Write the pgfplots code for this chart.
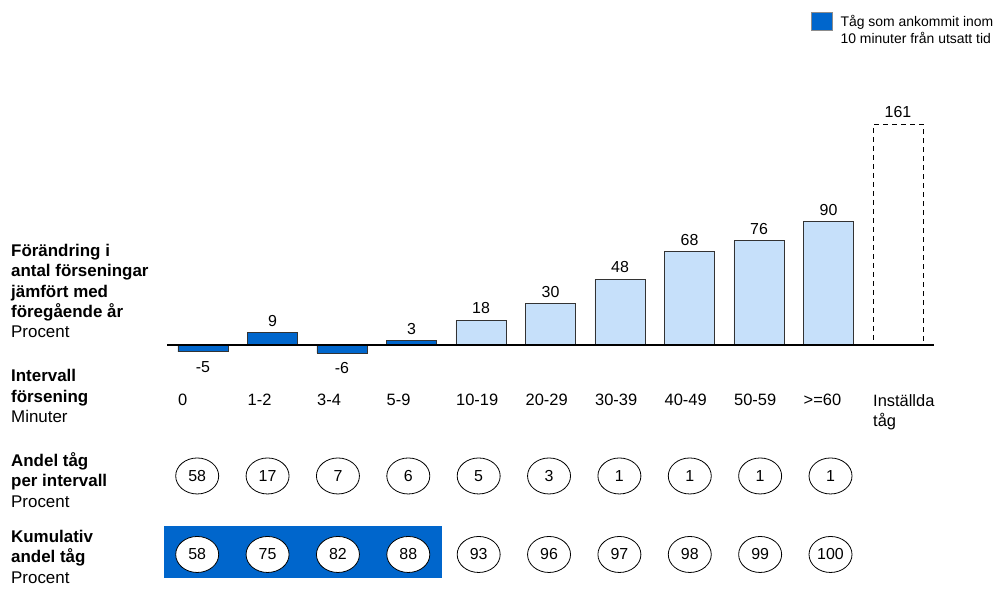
\documentclass[border=0pt]{standalone}
\usepackage{pgfplots}
\pgfplotsset{compat=1.18}
\usepackage{pgfplotstable}
\usepackage{fontspec}
\setmainfont{Liberation Sans}
\usetikzlibrary{shapes.geometric}
\definecolor{darkblue}{RGB}{0,102,204}
\definecolor{lightblue}{RGB}{198,224,250}

\pgfplotstableread{
x y
1 9
3 3
}\darkpos
\pgfplotstableread{
x y
0 -5
2 -6
}\darkneg
\pgfplotstableread{
x y
4 18
5 30
6 48
7 68
8 76
9 90
}\lightbars
\pgfplotstableread{
x y
10 161
}\cancelled
\pgfplotstableread{
x share cum
0 58 58
1 17 75
2 7 82
3 6 88
4 5 93
5 3 96
6 1 97
7 1 98
8 1 99
9 1 100
}\shares

\begin{document}
\begin{tikzpicture}
\begin{axis}[
  scale only axis, width=997bp, height=585bp,
  xmin=-2.9209, xmax=11.4245, ymin=-175.18, ymax=251.82,
  enlargelimits=false, clip=false,
  axis line style={draw=none}, tick style={draw=none},
  ytick=\empty,
  xtick={0,...,10},
  xticklabels={0,1-2,3-4,5-9,10-19,20-29,30-39,40-49,50-59,>=60,{Inställda\\tåg}},
  xticklabel style={anchor=north west, align=left, inner sep=0pt, xshift=-25bp, yshift=191bp, font=\fontsize{16.5}{20}\selectfont},
  /pgf/number format/assume math mode=true,
  bar width=0.72,
  legend cell align=left,
  legend style={at={(axis cs:8.748,243.07)}, anchor=north west, draw=none, fill=none,
    inner sep=0pt, outer sep=0pt, column sep=8bp, nodes={inner sep=0pt},
    font=\fontsize{14}{16.5}\selectfont},
]
\addlegendimage{legend image code/.code={\draw[fill=darkblue, draw=black!45, line width=0.6bp] (0bp,-8.5bp) rectangle (21bp,9.5bp);}}
\addlegendentry{\begin{tabular}[t]{@{}l@{}}Tåg som ankommit inom\\10 minuter från utsatt tid\end{tabular}}

% highlight box behind cumulative row
\addplot[fill=darkblue, draw=none, forget plot] coordinates {(-0.561,-132.1) (3.439,-132.1) (3.439,-170.1) (-0.561,-170.1)} -- cycle;

% bars
\addplot[ybar, bar shift=0pt, fill=darkblue, draw=black!80, line width=0.8bp,
  nodes near coords, nodes near coords style={inner sep=0pt, yshift=6bp, text=black, font=\fontsize{16}{19}\selectfont}]
  table[x=x,y=y] {\darkpos};
\addplot[ybar, bar shift=0pt, fill=darkblue, draw=black!80, line width=0.8bp,
  nodes near coords, nodes near coords style={inner sep=0pt, yshift=-9bp, text=black, font=\fontsize{16}{19}\selectfont}]
  table[x=x,y=y] {\darkneg};
\addplot[ybar, bar shift=0pt, fill=lightblue, draw=black!80, line width=0.8bp,
  nodes near coords, nodes near coords style={inner sep=0pt, yshift=6bp, text=black, font=\fontsize{16}{19}\selectfont}]
  table[x=x,y=y] {\lightbars};
\addplot[ybar, bar shift=0pt, fill=white, draw=black, line width=0.9bp, dash pattern=on 5bp off 4bp,
  nodes near coords, nodes near coords style={inner sep=0pt, yshift=6bp, text=black, font=\fontsize{16}{19}\selectfont, solid}]
  table[x=x,y=y] {\cancelled};

% baseline
\addplot[black, line width=2.6bp, mark=none] coordinates {(-0.518,0) (10.518,0)};

% share per interval
\addplot[draw=none, mark=none, nodes near coords, point meta=explicit, nodes near coords align={center},
  nodes near coords style={ellipse, draw=black, fill=white, line width=0.8bp, anchor=center, inner sep=0pt,
    minimum width=43bp, minimum height=36bp, font=\fontsize{16}{19}\selectfont}]
  table[x expr=\thisrow{x}*1.0125-0.0835, y expr=-95.6, meta=share] {\shares};
% cumulative share
\addplot[draw=none, mark=none, nodes near coords, point meta=explicit, nodes near coords align={center},
  nodes near coords style={ellipse, draw=black, fill=white, line width=0.8bp, anchor=center, inner sep=0pt,
    minimum width=43bp, minimum height=36bp, font=\fontsize{16}{19}\selectfont}]
  table[x expr=\thisrow{x}*1.0125-0.0835, y expr=-152.9, meta=cum] {\shares};

% row labels
\node[anchor=base west, inner sep=0pt, font=\fontsize{17}{20.3}\selectfont] at (axis cs:-2.763,64.45)
  {\begin{tabular}[t]{@{}l@{}}\textbf{Förändring i}\\\textbf{antal förseningar}\\\textbf{jämfört med}\\\textbf{föregående år}\\Procent\end{tabular}};
\node[anchor=base west, inner sep=0pt, font=\fontsize{17}{20.3}\selectfont] at (axis cs:-2.763,-27.0)
  {\begin{tabular}[t]{@{}l@{}}\textbf{Intervall}\\\textbf{försening}\\Minuter\end{tabular}};
\node[anchor=base west, inner sep=0pt, font=\fontsize{17}{20.3}\selectfont] at (axis cs:-2.763,-88.8)
  {\begin{tabular}[t]{@{}l@{}}\textbf{Andel tåg}\\\textbf{per intervall}\\Procent\end{tabular}};
\node[anchor=base west, inner sep=0pt, font=\fontsize{17}{20.3}\selectfont] at (axis cs:-2.763,-144.3)
  {\begin{tabular}[t]{@{}l@{}}\textbf{Kumulativ}\\\textbf{andel tåg}\\Procent\end{tabular}};
\end{axis}
\end{tikzpicture}
\end{document}
